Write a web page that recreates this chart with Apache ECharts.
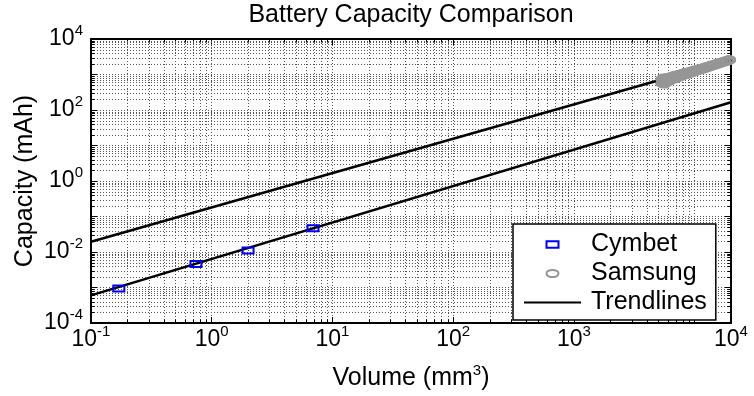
<!DOCTYPE html>
<html>
<head>
<meta charset="utf-8">
<script src="https://cdn.jsdelivr.net/npm/echarts@6/dist/echarts.min.js"></script>
<style>
html,body{margin:0;padding:0;background:#fff;}
#chart{width:754px;height:396px;}
</style>
</head>
<body>
<div id="chart"></div>
<script>
// ---------------- data ----------------
const cymbetVolume   = [0.17, 0.74, 2.0, 6.9];
const cymbetCapacity = [0.00093, 0.0046, 0.011, 0.047];

const samsungVolume = [5400, 5400, 5450, 5500, 5500, 5600, 5600, 5700, 5800, 5800, 5900, 5900, 6100, 6100, 6300, 6300,
  6500, 6500, 6700, 6700, 6900, 6900, 7200, 7200, 7500, 7500, 7800, 7800, 8100, 8100, 8400, 8400,
  8800, 8800, 9200, 9200, 9600, 9600, 10000, 10000, 10500, 10500, 11000, 11000, 11600, 11600,
  12200, 12200, 12900, 12900, 13600, 13600, 14400, 14400, 15200, 15200, 16000, 16000, 16800, 16800,
  17600, 17600, 18500, 18500, 19300, 19300];
const samsungCapacity = [560, 740, 650, 600, 790, 540, 700, 660, 600, 780, 680, 820, 640, 800, 700, 850,
  730, 880, 780, 920, 760, 930, 830, 980, 860, 1010, 910, 1050, 960, 1090, 1000, 1130,
  1040, 1170, 1090, 1210, 1150, 1260, 1210, 1320, 1280, 1380, 1350, 1440, 1420, 1520,
  1500, 1610, 1600, 1700, 1700, 1800, 1810, 1900, 1920, 2020, 2030, 2120, 2150, 2240,
  2270, 2350, 2400, 2480, 2530, 2620];

const trendVolume          = [0.1, 20000];
const cymbetTrendCapacity  = [0.0006, 165];
const samsungTrendCapacity = [0.0195, 2600];

const seriesNames = ['Cymbet', 'Samsung', 'Trendlines'];
const chartTitle = 'Battery Capacity Comparison';
const xAxisTitle = ['Volume (mm', '3', ')'];
const yAxisTitle = 'Capacity (mAh)';
// tick label exponents (x: label for the last decade sits at the axis end, as in the reference)
const xTickLabels = {'0.1': '-1', '1': '0', '10': '1', '100': '2', '1000': '3', '20000': '4'};
const yTickLabels = {'-4': '-4', '-2': '-2', '0': '0', '2': '2', '4': '4'};

const X_MIN = 0.1, X_MAX = 20000, Y_MIN = 1e-4, Y_MAX = 1e4;

// ---------------- helpers ----------------
const FONT = '"Liberation Sans", Arial, Helvetica, sans-serif';
function zip(a, b) { return a.map((v, i) => [v, b[i]]); }
function minorValues(lo, hi) {
  const out = [];
  for (let e = lo; e < hi; e++) for (let m = 2; m <= 9; m++) out.push(+(m * Math.pow(10, e)).toPrecision(6));
  return out;
}
const xMinor = minorValues(-1, 4);
const yMinor = minorValues(-4, 4);

const supRich = {
  b: {fontSize: 23, fontFamily: FONT, color: '#000'},
  s: {fontSize: 15, fontFamily: FONT, color: '#000', padding: [0, 0, 16, 0]}
};
function xLabel(v) {
  for (const k in xTickLabels) {
    if (Math.abs(v / parseFloat(k) - 1) < 1e-6) return '{b|10}{s|' + xTickLabels[k] + '}';
  }
  return '';
}
function yLabel(v) {
  const e = Math.round(Math.log10(v));
  if (yTickLabels[String(e)] !== undefined) return '{b|10}{s|' + yTickLabels[String(e)] + '}';
  return '';
}

const gridLine = {color: '#555', width: 1, type: [1, 2]};

const chart = echarts.init(document.getElementById('chart'), null, {renderer: 'canvas'});
chart.setOption({
  animation: false,
  backgroundColor: '#fff',
  title: {
    text: chartTitle, left: 411, top: 3, padding: 0, textAlign: 'center',
    textStyle: {fontFamily: FONT, fontSize: 25, fontWeight: 'normal', color: '#000'}
  },
  grid: {left: 91, right: 23, top: 39, bottom: 67, containLabel: false},
  legend: {
    orient: 'vertical', left: 513, top: 224, padding: [8, 9, 5, 10],
    itemWidth: 57, itemHeight: 15, itemGap: 4,
    backgroundColor: '#fff', borderColor: '#000', borderWidth: 1.5, borderRadius: 0,
    textStyle: {fontFamily: FONT, fontSize: 25, color: '#000', lineHeight: 24, padding: [0, 0, 0, 5]},
    selectedMode: false,
    data: [
      {name: seriesNames[0], lineStyle: {opacity: 0}, itemStyle: {borderWidth: 2}},
      {name: seriesNames[1], lineStyle: {opacity: 0}, itemStyle: {borderWidth: 2}},
      {name: seriesNames[2], itemStyle: {opacity: 0}, lineStyle: {width: 2}}
    ]
  },
  xAxis: [{
    type: 'log', logBase: 10, min: X_MIN, max: X_MAX, position: 'bottom',
    name: '{n|' + xAxisTitle[0] + '}{s|' + xAxisTitle[1] + '}{n|' + xAxisTitle[2] + '}',
    nameLocation: 'middle', nameGap: 40,
    nameTextStyle: {rich: {
      n: {fontSize: 25, fontFamily: FONT, color: '#000'},
      s: {fontSize: 15, fontFamily: FONT, color: '#000', padding: [0, 0, 16, 0]}
    }},
    axisLine: {onZero: false, lineStyle: {color: '#000', width: 2}},
    axisTick: {inside: true, length: 6, lineStyle: {color: '#000', width: 1}},
    axisLabel: {formatter: xLabel, rich: supRich, margin: 1, showMaxLabel: true, showMinLabel: true, hideOverlap: false},
    splitLine: {show: true, lineStyle: gridLine}
  }, {
    type: 'log', logBase: 10, min: X_MIN, max: X_MAX, position: 'top',
    axisLine: {onZero: false, lineStyle: {color: '#000', width: 2}},
    axisTick: {inside: true, length: 6, lineStyle: {color: '#000', width: 1}},
    axisLabel: {show: false}, splitLine: {show: false}
  }],
  yAxis: [{
    type: 'log', logBase: 10, min: Y_MIN, max: Y_MAX, position: 'left',
    name: yAxisTitle, nameLocation: 'middle', nameGap: 53, nameMoveOverlap: false,
    nameTextStyle: {fontFamily: FONT, fontSize: 25, color: '#000'},
    axisLine: {onZero: false, lineStyle: {color: '#000', width: 2}},
    axisTick: {inside: true, length: 6, lineStyle: {color: '#000', width: 1}},
    axisLabel: {formatter: yLabel, rich: supRich, margin: 8, showMaxLabel: true, showMinLabel: true, hideOverlap: false},
    splitLine: {show: true, lineStyle: gridLine}
  }, {
    type: 'log', logBase: 10, min: Y_MIN, max: Y_MAX, position: 'right',
    axisLine: {onZero: false, lineStyle: {color: '#000', width: 2}},
    axisTick: {inside: true, length: 6, lineStyle: {color: '#000', width: 1}},
    axisLabel: {show: false}, splitLine: {show: false}
  }],
  series: [
    {
      name: '_xminor', type: 'custom', xAxisIndex: 0, yAxisIndex: 0, silent: true, z: 1,
      data: xMinor.map(v => [v, Y_MIN]),
      renderItem: function (params, api) {
        const v = api.value(0);
        const p0 = api.coord([v, Y_MIN]);
        const p1 = api.coord([v, Y_MAX]);
        const x = Math.round(p0[0]) + 0.5;
        return {type: 'group', children: [
          {type: 'line', shape: {x1: x, y1: p0[1], x2: x, y2: p1[1]}, style: {stroke: '#555', lineWidth: 1, lineDash: [1, 2]}},
          {type: 'line', shape: {x1: x, y1: p0[1], x2: x, y2: p0[1] - 3.5}, style: {stroke: '#000', lineWidth: 1}},
          {type: 'line', shape: {x1: x, y1: p1[1], x2: x, y2: p1[1] + 3.5}, style: {stroke: '#000', lineWidth: 1}}
        ]};
      }
    },
    {
      name: '_yminor', type: 'custom', xAxisIndex: 0, yAxisIndex: 0, silent: true, z: 1,
      data: yMinor.map(v => [X_MIN, v]),
      renderItem: function (params, api) {
        const v = api.value(1);
        const p0 = api.coord([X_MIN, v]);
        const p1 = api.coord([X_MAX, v]);
        const y = Math.round(p0[1]) + 0.5;
        return {type: 'group', children: [
          {type: 'line', shape: {x1: p0[0], y1: y, x2: p1[0], y2: y}, style: {stroke: '#555', lineWidth: 1, lineDash: [1, 2]}},
          {type: 'line', shape: {x1: p0[0], y1: y, x2: p0[0] + 3.5, y2: y}, style: {stroke: '#000', lineWidth: 1}},
          {type: 'line', shape: {x1: p1[0], y1: y, x2: p1[0] - 3.5, y2: y}, style: {stroke: '#000', lineWidth: 1}}
        ]};
      }
    },
    {
      name: seriesNames[2], type: 'line', z: 3, symbol: 'none',
      data: zip(trendVolume, cymbetTrendCapacity),
      lineStyle: {color: '#000', width: 2.5}, itemStyle: {color: '#000'}
    },
    {
      name: seriesNames[2], type: 'line', z: 3, symbol: 'none',
      data: zip(trendVolume, samsungTrendCapacity),
      lineStyle: {color: '#000', width: 2.5}, itemStyle: {color: '#000'}
    },
    {
      name: seriesNames[1], type: 'line', z: 4,
      symbol: 'path://M0,0M12,12M0,6A6,3.6,0,1,0,12,6A6,3.6,0,1,0,0,6Z', symbolSize: 12,
      data: zip(samsungVolume, samsungCapacity),
      lineStyle: {opacity: 0, color: '#999'},
      itemStyle: {color: 'rgba(0,0,0,0)', borderColor: '#969696', borderWidth: 2}
    },
    {
      name: seriesNames[0], type: 'line', z: 5,
      symbol: 'path://M0,0M11,11M0,2.5L11,2.5L11,8.5L0,8.5Z', symbolSize: 11,
      data: zip(cymbetVolume, cymbetCapacity),
      lineStyle: {opacity: 0, color: '#0000ff'},
      itemStyle: {color: 'rgba(0,0,0,0)', borderColor: '#0000ff', borderWidth: 2}
    }
  ]
});
</script>
</body>
</html>
